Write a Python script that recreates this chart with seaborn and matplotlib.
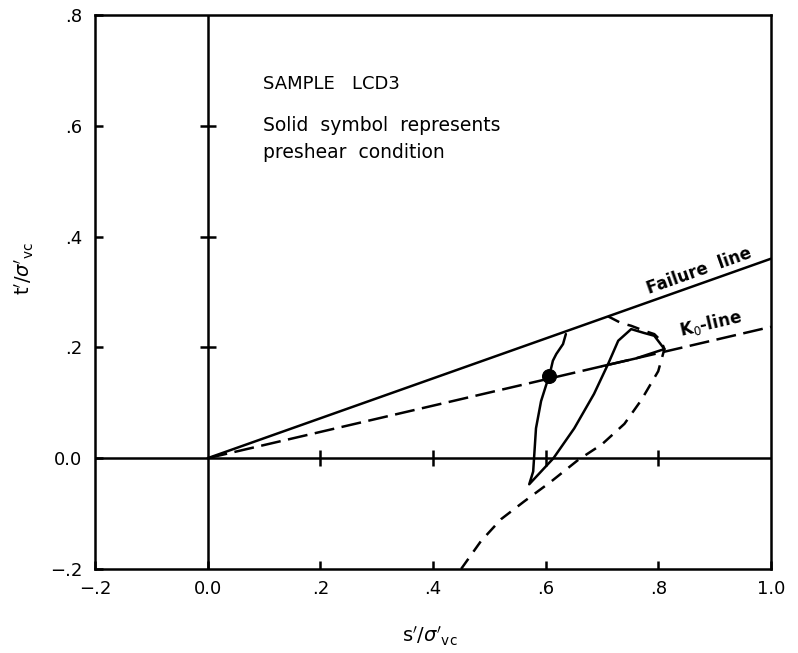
import numpy as np
import pandas as pd
import seaborn as sns
from matplotlib import pyplot as plt

# reference lines (s'/sigma'vc, t'/sigma'vc)
failure_s = [0.0, 1.0]
failure_t = [0.0, 0.36]
k0_s = [0.0, 1.0]
k0_t = [0.0, 0.237]

# preshear condition (solid symbol)
pre_s = [0.606]
pre_t = [0.148]

# solid path from preshear point up to failure line
up_s = [0.606, 0.610, 0.613, 0.619, 0.631, 0.636]
up_t = [0.148, 0.163, 0.176, 0.188, 0.206, 0.224]

# solid loop: down from preshear point, then up and back along K0
loop_s = [0.606, 0.592, 0.583, 0.580, 0.578, 0.571, 0.614, 0.651, 0.686, 0.711,
          0.729, 0.752, 0.775, 0.793, 0.811, 0.760, 0.700]
loop_t = [0.148, 0.103, 0.054, 0.007, -0.024, -0.047, 0.000, 0.054, 0.116, 0.170,
          0.212, 0.233, 0.226, 0.221, 0.197, 0.180, 0.166]

# dashed path
dash_s = [0.711, 0.734, 0.752, 0.775, 0.793, 0.805, 0.811, 0.800, 0.770, 0.740,
          0.700, 0.658, 0.610, 0.562, 0.521, 0.485, 0.450]
dash_t = [0.256, 0.244, 0.239, 0.230, 0.224, 0.212, 0.197, 0.157, 0.105, 0.062,
          0.025, -0.003, -0.042, -0.078, -0.110, -0.150, -0.200]

x_ticks = [-0.2, 0.0, 0.2, 0.4, 0.6, 0.8, 1.0]
x_labels = ['\u2212.2', '0.0', '.2', '.4', '.6', '.8', '1.0']
y_ticks = [-0.2, 0.0, 0.2, 0.4, 0.6, 0.8]
y_labels = ['\u2212.2', '0.0', '.2', '.4', '.6', '.8']
inner_x_ticks = [0.2, 0.4, 0.6, 0.8]
inner_y_ticks = [0.2, 0.4, 0.6]

sns.set_theme(style="white")
plt.rcParams['font.family'] = ['DejaVu Sans']
plt.rcParams['mathtext.fontset'] = 'dejavusans'
plt.rcParams['text.color'] = 'black'
plt.rcParams['axes.labelcolor'] = 'black'

fig = plt.figure(figsize=(7.98, 6.53), dpi=100)
ax = fig.add_axes([0.119, 0.1286, 0.847, 0.8485])

lw = 1.8
sns.lineplot(x=failure_s, y=failure_t, ax=ax, color='black', lw=lw, sort=False, estimator=None)
sns.lineplot(x=k0_s, y=k0_t, ax=ax, color='black', lw=lw, sort=False, estimator=None,
             ls=(0, (8, 3)))
sns.lineplot(x=up_s, y=up_t, ax=ax, color='black', lw=lw, sort=False, estimator=None)
sns.lineplot(x=loop_s, y=loop_t, ax=ax, color='black', lw=lw, sort=False, estimator=None)
sns.lineplot(x=dash_s, y=dash_t, ax=ax, color='black', lw=lw, sort=False, estimator=None,
             ls=(0, (5, 3.5)))
sns.scatterplot(x=pre_s, y=pre_t, ax=ax, color='black', s=100, edgecolor='black', zorder=5)

# inner axes through origin with cross ticks
ax.axvline(0, color='black', lw=lw)
ax.axhline(0, color='black', lw=lw)
ax.plot(np.zeros(len(inner_y_ticks)), inner_y_ticks, ls='none', marker='_',
        ms=12, mew=lw, color='black')
ax.plot(inner_x_ticks, np.zeros(len(inner_x_ticks)), ls='none', marker='|',
        ms=12, mew=lw, color='black')

ax.set_xlim(-0.2, 1.0)
ax.set_ylim(-0.2, 0.8)
ax.set_xticks(x_ticks)
ax.set_xticklabels(x_labels)
ax.set_yticks(y_ticks)
ax.set_yticklabels(y_labels)
ax.tick_params(direction='in', length=6, width=lw, colors='black', labelsize=13,
               bottom=True, left=True, top=False, right=False)
ax.tick_params(axis='x', pad=8)
ax.tick_params(axis='y', pad=9)
for side in ['left', 'right', 'top', 'bottom']:
    ax.spines[side].set_color('black')
    ax.spines[side].set_linewidth(lw)

ax.set_xlabel(r"s$'$/$\sigma'_{\mathrm{vc}}$", fontsize=14, va='center')
ax.set_ylabel(r"t$'$/$\sigma'_{\mathrm{vc}}$", fontsize=14, va='center')
ax.xaxis.set_label_coords(0.496, -0.121)
ax.yaxis.set_label_coords(-0.104, 0.543)

ax.text(0.098, 0.666, 'SAMPLE   LCD3', fontsize=13)
ax.text(0.098, 0.590, 'Solid  symbol  represents', fontsize=13.5)
ax.text(0.098, 0.541, 'preshear  condition', fontsize=13.5)
ax.text(0.784, 0.297, 'Failure  line', fontsize=12, fontweight='bold',
        rotation=19.5, rotation_mode='anchor')
ax.text(0.841, 0.221, r'K$_0$-line', fontsize=12, fontweight='bold',
        rotation=13.1, rotation_mode='anchor')

fig.savefig('out.png', dpi=100)
